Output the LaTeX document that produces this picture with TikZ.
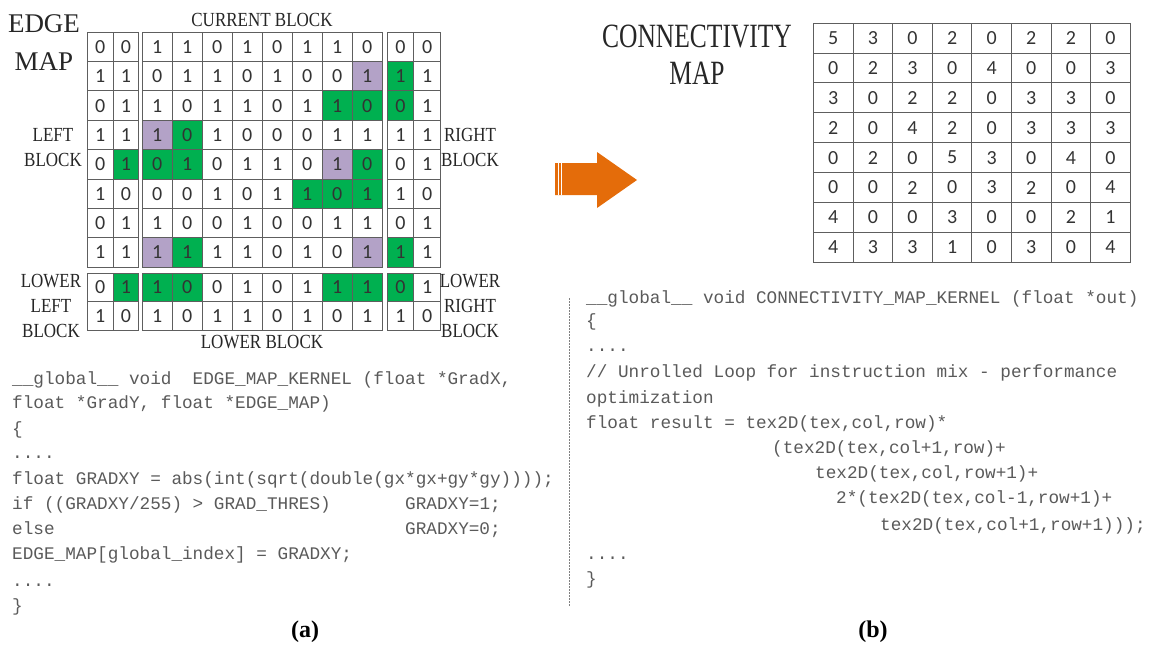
\documentclass[tikz,border=0pt]{standalone}
\usepackage{fontspec}
\setmainfont{Liberation Serif}
\setmonofont{Liberation Mono}
\newfontfamily\lblfont[FakeStretch=0.85]{Liberation Serif}
\newfontfamily\ttlfont[FakeStretch=0.75]{Liberation Serif}
\newfontfamily\numfont{Carlito}
\usetikzlibrary{positioning}
\definecolor{edgegreen}{HTML}{00B050}
\definecolor{edgepurple}{HTML}{B3A2C7}
\definecolor{arroworange}{HTML}{E46C0A}
\definecolor{gridline}{HTML}{5E5E5E}
\definecolor{codegray}{HTML}{5A5A5A}
\colorlet{cellw}{white}
\colorlet{cellg}{edgegreen}
\colorlet{cellp}{edgepurple}
\newcommand{\cgap}[1]{\hspace*{#1\dimexpr0.6em\relax}}
\tikzset{
  cell/.style={draw=gridline,line width=1pt,inner sep=0pt,anchor=north west,
    font=\numfont\fontsize{20}{20}\selectfont,text=black!80},
  lbl/.style={font=\lblfont\fontsize{20}{25}\selectfont,text=black!85,inner sep=0pt},
  code/.style={font=\ttfamily\fontsize{17.7}{25}\selectfont,text=codegray,inner sep=0pt,anchor=base west},
  subcap/.style={font=\bfseries\fontsize{24}{24}\selectfont,inner sep=0pt}
}

\begin{document}
\begin{tikzpicture}[x=1pt,y=-1pt]
  \useasboundingbox (0,0) rectangle (1156,653);
  \foreach \row [count=\r] in {
    {0/w,0/w,1/w,1/w,0/w,1/w,0/w,1/w,1/w,0/w,0/w,0/w},
    {1/w,1/w,0/w,1/w,1/w,0/w,1/w,0/w,0/w,1/p,1/g,1/w},
    {0/w,1/w,1/w,0/w,1/w,1/w,0/w,1/w,1/g,0/g,0/g,1/w},
    {1/w,1/w,1/p,0/g,1/w,0/w,0/w,0/w,1/w,1/w,1/w,1/w},
    {0/w,1/g,0/g,1/g,0/w,1/w,1/w,0/w,1/p,0/g,0/w,1/w},
    {1/w,0/w,0/w,0/w,1/w,0/w,1/w,1/g,0/g,1/g,1/w,0/w},
    {0/w,1/w,1/w,0/w,0/w,1/w,0/w,0/w,1/w,1/w,0/w,1/w},
    {1/w,1/w,1/p,1/g,1/w,1/w,0/w,1/w,0/w,1/p,1/g,1/w},
    {0/w,1/g,1/g,0/g,0/w,1/w,0/w,1/w,1/g,1/g,0/g,1/w},
    {1/w,0/w,1/w,0/w,1/w,1/w,0/w,1/w,0/w,1/w,1/w,0/w}}{
    \foreach \v/\f [count=\c] in \row {
      \pgfmathsetmacro\cx{\c<3 ? 86.7+(\c-1)*25.8 : (\c<11 ? 141.7+(\c-3)*30 : 386.7+(\c-11)*26.65)}
      \pgfmathsetmacro\cw{\c<3 ? 25.8 : (\c<11 ? 30 : 26.65)}
      \pgfmathsetmacro\cy{\r<9 ? 31.7+(\r-1)*29.375 : 272.7+(\r-9)*28.65}
      \pgfmathsetmacro\ch{\r<9 ? 29.375 : 28.65}
      \node[cell,fill=cell\f,minimum width=\cw pt,minimum height=\ch pt] (e-\r-\c) at (\cx,\cy) {\v};
    }
  }
  \foreach \row [count=\r] in {
    {5,3,0,2,0,2,2,0},{0,2,3,0,4,0,0,3},{3,0,2,2,0,3,3,0},{2,0,4,2,0,3,3,3},
    {0,2,0,5,3,0,4,0},{0,0,2,0,3,2,0,4},{4,0,0,3,0,0,2,1},{4,3,3,1,0,3,0,4}}{
    \foreach \v [count=\c] in \row
      \node[cell,minimum width=39.6pt,minimum height=29.875pt] (m-\r-\c) at ({813+(\c-1)*39.6},{22.7+(\r-1)*29.875}) {\v};
  }
  \node[font=\fontsize{27}{38}\selectfont,align=center,text=black!85,inner sep=0pt] (edgemap) at (44,43) {EDGE\\MAP};
  \node[lbl,anchor=base] (curlbl) at (262,26) {CURRENT BLOCK};
  \node[lbl,align=center] (leftlbl) at (53,147.5) {LEFT\\BLOCK};
  \node[lbl,align=center] (rightlbl) at (470,147.5) {RIGHT\\BLOCK};
  \node[lbl,align=center] (lleftlbl) at (51,305.5) {LOWER\\LEFT\\BLOCK};
  \node[lbl,align=center] (lrightlbl) at (470,305.5) {LOWER\\RIGHT\\BLOCK};
  \node[lbl,anchor=base] (lowlbl) at (262,348) {LOWER BLOCK};
  \node[font=\ttlfont\fontsize{34}{37}\selectfont,align=center,text=black!85,inner sep=0pt] (conntitle) at (697,55) {CONNECTIVITY\\MAP};
  \fill[arroworange] (555,163) -- (597,163) -- (597,152) -- (637,180) -- (597,208) -- (597,195) -- (555,195) -- cycle;
  \draw[white,line width=0.8pt] (558,163) -- (558,195) (561.5,163) -- (561.5,195);
  \draw[gray,line width=0.7pt,dash pattern=on 1.5pt off 1.5pt] (569.5,298) -- (569.5,607);
  \foreach \ly/\lx/\lt [count=\i] in {
    384/12/{\_\_global\_\_ void\cgap{2}EDGE\_MAP\_KERNEL (float *GradX,},
    408/12/{float *GradY, float *EDGE\_MAP)},
    434/12/{\{},
    458/12/{....},
    484/12/{float GRADXY = abs(int(sqrt(double(gx*gx+gy*gy))));},
    509/12/{if ((GRADXY/255) > GRAD\_THRES)\cgap{7}GRADXY=1;},
    534/12/{else\cgap{33}GRADXY=0;},
    559/12/{EDGE\_MAP[global\_index] = GRADXY;},
    586/12/{....},
    611/12/{\}}}
    \node[code] (acode-\i) at (\lx,\ly) {\lt};
  \foreach \ly/\lx/\lt [count=\i] in {
    303/586/{\_\_global\_\_ void CONNECTIVITY\_MAP\_KERNEL (float *out)},
    326/586/{\{},
    351/586/{....},
    377/586/{// Unrolled Loop for instruction mix - performance},
    403/586/{optimization},
    428/586/{float result = tex2D(tex,col,row)*},
    453/772/{(tex2D(tex,col+1,row)+},
    478/815/{tex2D(tex,col,row+1)+},
    503/836/{2*(tex2D(tex,col-1,row+1)+},
    530/880/{tex2D(tex,col+1,row+1)));},
    559/586/{....},
    584/586/{\}}}
    \node[code] (bcode-\i) at (\lx,\ly) {\lt};
  \node[subcap] (suba) at (305,632) {(a)};
  \node[subcap] (subb) at (873,632) {(b)};
\end{tikzpicture}
\end{document}
